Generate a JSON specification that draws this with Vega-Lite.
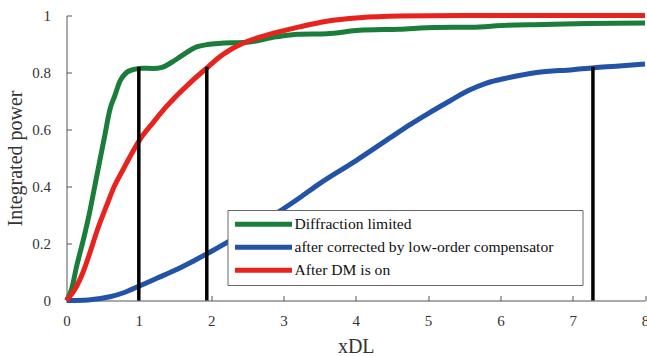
{
  "$schema": "https://vega.github.io/schema/vega-lite/v6.json",
  "width": 578.5,
  "height": 285,
  "autosize": {"type": "none"},
  "padding": {"left": 66.5, "top": 15.5, "right": 2, "bottom": 55.5},
  "background": "white",
  "config": {
    "view": {"stroke": null},
    "font": "Liberation Serif",
    "axis": {
      "grid": false,
      "labelFlush": false,
      "labelOverlap": false,
      "domainColor": "#555555",
      "domainWidth": 1,
      "tickColor": "#555555",
      "tickSize": -5,
      "labelFont": "Liberation Serif",
      "labelFontSize": 15,
      "labelColor": "#333333",
      "titleFont": "Liberation Serif",
      "titleFontSize": 20,
      "titleFontWeight": "normal",
      "titleColor": "#333333"
    },
    "legend": {"labelFont": "Liberation Serif", "labelFontWeight": "normal"}
  },
  "datasets": {
    "curves": [
      {"x": 0, "y": 0, "s": "Diffraction limited"},
      {"x": 0.07, "y": 0.04, "s": "Diffraction limited"},
      {"x": 0.14, "y": 0.12, "s": "Diffraction limited"},
      {"x": 0.23, "y": 0.21, "s": "Diffraction limited"},
      {"x": 0.32, "y": 0.31, "s": "Diffraction limited"},
      {"x": 0.39, "y": 0.4, "s": "Diffraction limited"},
      {"x": 0.46, "y": 0.49, "s": "Diffraction limited"},
      {"x": 0.53, "y": 0.58, "s": "Diffraction limited"},
      {"x": 0.6, "y": 0.67, "s": "Diffraction limited"},
      {"x": 0.67, "y": 0.72, "s": "Diffraction limited"},
      {"x": 0.74, "y": 0.77, "s": "Diffraction limited"},
      {"x": 0.83, "y": 0.8, "s": "Diffraction limited"},
      {"x": 0.92, "y": 0.81, "s": "Diffraction limited"},
      {"x": 1.05, "y": 0.815, "s": "Diffraction limited"},
      {"x": 1.2, "y": 0.814, "s": "Diffraction limited"},
      {"x": 1.32, "y": 0.818, "s": "Diffraction limited"},
      {"x": 1.45, "y": 0.835, "s": "Diffraction limited"},
      {"x": 1.6, "y": 0.86, "s": "Diffraction limited"},
      {"x": 1.8, "y": 0.89, "s": "Diffraction limited"},
      {"x": 1.95, "y": 0.898, "s": "Diffraction limited"},
      {"x": 2.1, "y": 0.902, "s": "Diffraction limited"},
      {"x": 2.5, "y": 0.906, "s": "Diffraction limited"},
      {"x": 2.9, "y": 0.925, "s": "Diffraction limited"},
      {"x": 3.2, "y": 0.934, "s": "Diffraction limited"},
      {"x": 3.6, "y": 0.936, "s": "Diffraction limited"},
      {"x": 4.05, "y": 0.948, "s": "Diffraction limited"},
      {"x": 4.6, "y": 0.952, "s": "Diffraction limited"},
      {"x": 5.1, "y": 0.958, "s": "Diffraction limited"},
      {"x": 5.6, "y": 0.959, "s": "Diffraction limited"},
      {"x": 6.1, "y": 0.966, "s": "Diffraction limited"},
      {"x": 6.6, "y": 0.968, "s": "Diffraction limited"},
      {"x": 7.2, "y": 0.972, "s": "Diffraction limited"},
      {"x": 8, "y": 0.974, "s": "Diffraction limited"},
      {"x": 0, "y": 0, "s": "after corrected by low-order compensator"},
      {"x": 0.3, "y": 0.002, "s": "after corrected by low-order compensator"},
      {"x": 0.6, "y": 0.013, "s": "after corrected by low-order compensator"},
      {"x": 0.8, "y": 0.028, "s": "after corrected by low-order compensator"},
      {"x": 1.0, "y": 0.05, "s": "after corrected by low-order compensator"},
      {"x": 1.25, "y": 0.078, "s": "after corrected by low-order compensator"},
      {"x": 1.5, "y": 0.106, "s": "after corrected by low-order compensator"},
      {"x": 1.75, "y": 0.138, "s": "after corrected by low-order compensator"},
      {"x": 2.0, "y": 0.172, "s": "after corrected by low-order compensator"},
      {"x": 2.5, "y": 0.245, "s": "after corrected by low-order compensator"},
      {"x": 3.0, "y": 0.322, "s": "after corrected by low-order compensator"},
      {"x": 3.25, "y": 0.365, "s": "after corrected by low-order compensator"},
      {"x": 3.5, "y": 0.41, "s": "after corrected by low-order compensator"},
      {"x": 4.0, "y": 0.49, "s": "after corrected by low-order compensator"},
      {"x": 4.5, "y": 0.575, "s": "after corrected by low-order compensator"},
      {"x": 4.75, "y": 0.617, "s": "after corrected by low-order compensator"},
      {"x": 5.0, "y": 0.656, "s": "after corrected by low-order compensator"},
      {"x": 5.3, "y": 0.7, "s": "after corrected by low-order compensator"},
      {"x": 5.55, "y": 0.736, "s": "after corrected by low-order compensator"},
      {"x": 5.8, "y": 0.762, "s": "after corrected by low-order compensator"},
      {"x": 6.1, "y": 0.781, "s": "after corrected by low-order compensator"},
      {"x": 6.5, "y": 0.8, "s": "after corrected by low-order compensator"},
      {"x": 7.0, "y": 0.81, "s": "after corrected by low-order compensator"},
      {"x": 7.3, "y": 0.817, "s": "after corrected by low-order compensator"},
      {"x": 7.6, "y": 0.822, "s": "after corrected by low-order compensator"},
      {"x": 8.0, "y": 0.83, "s": "after corrected by low-order compensator"},
      {"x": 0, "y": 0, "s": "After DM is on"},
      {"x": 0.14, "y": 0.05, "s": "After DM is on"},
      {"x": 0.23, "y": 0.1, "s": "After DM is on"},
      {"x": 0.32, "y": 0.165, "s": "After DM is on"},
      {"x": 0.43, "y": 0.25, "s": "After DM is on"},
      {"x": 0.55, "y": 0.33, "s": "After DM is on"},
      {"x": 0.66, "y": 0.4, "s": "After DM is on"},
      {"x": 0.78, "y": 0.458, "s": "After DM is on"},
      {"x": 0.9, "y": 0.515, "s": "After DM is on"},
      {"x": 1.01, "y": 0.563, "s": "After DM is on"},
      {"x": 1.2, "y": 0.625, "s": "After DM is on"},
      {"x": 1.38, "y": 0.68, "s": "After DM is on"},
      {"x": 1.7, "y": 0.762, "s": "After DM is on"},
      {"x": 1.96, "y": 0.82, "s": "After DM is on"},
      {"x": 2.12, "y": 0.855, "s": "After DM is on"},
      {"x": 2.3, "y": 0.885, "s": "After DM is on"},
      {"x": 2.49, "y": 0.908, "s": "After DM is on"},
      {"x": 2.85, "y": 0.937, "s": "After DM is on"},
      {"x": 3.22, "y": 0.96, "s": "After DM is on"},
      {"x": 3.6, "y": 0.98, "s": "After DM is on"},
      {"x": 4.05, "y": 0.992, "s": "After DM is on"},
      {"x": 4.6, "y": 0.998, "s": "After DM is on"},
      {"x": 5.5, "y": 1.0, "s": "After DM is on"},
      {"x": 8, "y": 1.0, "s": "After DM is on"}
    ],
    "rules": [
      {"x": 1.0, "lo": 0, "hi": 0.82},
      {"x": 1.94, "lo": 0, "hi": 0.82},
      {"x": 7.28, "lo": 0, "hi": 0.82}
    ]
  },
  "layer": [
    {
      "data": {"name": "curves"},
      "mark": {"type": "line", "strokeWidth": 5, "interpolate": "monotone", "clip": false},
      "encoding": {
        "x": {
          "field": "x", "type": "quantitative",
          "scale": {"domain": [0, 8], "nice": false, "zero": false},
          "axis": {"values": [0, 1, 2, 3, 4, 5, 6, 7, 8], "format": "d", "title": "xDL", "labelPadding": 18, "titlePadding": 8}
        },
        "y": {
          "field": "y", "type": "quantitative",
          "scale": {"domain": [0, 1], "nice": false},
          "axis": {"values": [0, 0.2, 0.4, 0.6, 0.8, 1], "format": ".1~f", "title": "Integrated power", "labelPadding": 21, "titlePadding": 6}
        },
        "color": {
          "field": "s", "type": "nominal", "sort": null,
          "scale": {
            "domain": ["Diffraction limited", "after corrected by low-order compensator", "After DM is on"],
            "range": ["#1b7d3a", "#2353a6", "#e8221c"]
          },
          "legend": {
            "title": "\u00a0",
            "titleOrient": "right",
            "titlePadding": 26,
            "titleFontSize": 8,
            "orient": "none",
            "legendX": 161,
            "legendY": 194.5,
            "symbolType": "stroke",
            "symbolSize": 3249,
            "symbolStrokeWidth": 5,
            "symbolOffset": 2,
            "clipHeight": 22.5,
            "rowPadding": 0,
            "labelOffset": 0,
            "labelFont": "Liberation Serif",
            "labelFontSize": 15.6,
            "labelFontWeight": "normal",
            "labelColor": "#111111",
            "labelLimit": 0,
            "padding": 3,
            "strokeColor": "#666666",
            "fillColor": "white",
            "cornerRadius": 0
          }
        }
      }
    },
    {
      "data": {"name": "rules"},
      "mark": {"type": "rule", "color": "black", "strokeWidth": 3.5},
      "encoding": {
        "x": {"field": "x", "type": "quantitative"},
        "y": {"field": "lo", "type": "quantitative"},
        "y2": {"field": "hi"}
      }
    }
  ]
}
